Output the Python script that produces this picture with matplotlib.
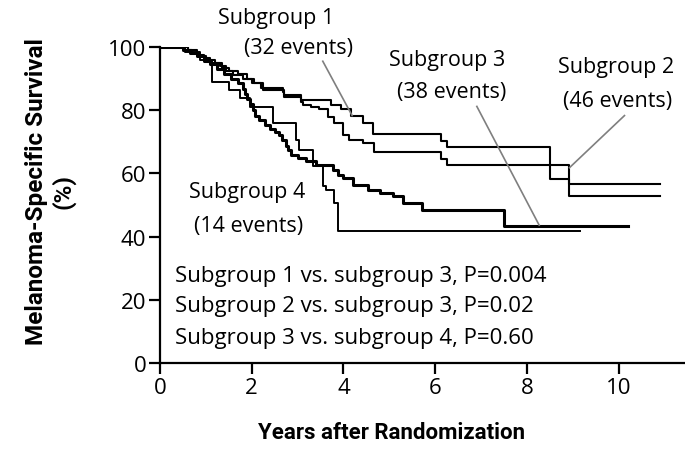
import matplotlib.pyplot as plt

plt.rcParams['font.family'] = ['Open Sans', 'DejaVu Sans']

# Kaplan-Meier curves (years, % surviving)
t_sub1 = [0, 0.55, 0.7, 0.85, 1.0, 1.2, 1.35, 1.5, 1.7, 1.9, 2.05, 2.2, 2.68, 2.7, 3.07, 3.73,
          3.95, 4.17, 4.42, 4.64, 6.12, 6.25, 8.51, 8.93, 10.9]
s_sub1 = [100, 99, 98, 97, 96, 95, 93.5, 92.5, 91.5, 90, 88.5, 87, 85.7, 84.7, 83.2, 81.5,
          80.3, 78.3, 76.1, 72.6, 70.4, 68.5, 58.3, 56.7, 56.7]

t_sub2 = [0, 0.6, 0.8, 0.95, 1.1, 1.3, 1.45, 1.6, 1.8, 2.0, 2.24, 2.7, 3.07, 3.11, 3.29, 3.46,
          3.66, 3.79, 3.99, 4.12, 4.43, 4.67, 6.12, 6.25, 8.93, 10.9]
s_sub2 = [100, 99, 97.5, 96.5, 95, 94, 92.5, 91, 90, 88.5, 86.3, 84.1, 82.5, 81.5, 80.9, 80.3,
          77.7, 76.1, 72.3, 70.7, 69.5, 66.9, 64.6, 62.7, 52.9, 52.9]

t_sub3 = [0, 0.5, 0.65, 0.8, 0.95, 1.1, 1.25, 1.4, 1.55, 1.7, 1.8, 1.85, 1.9, 1.97, 2.02, 2.08,
          2.15, 2.3, 2.4, 2.5, 2.59, 2.65, 2.74, 2.8, 2.85, 3.0, 3.18, 3.4, 3.77, 3.88, 4.0,
          4.21, 4.54, 4.8, 5.09, 5.31, 5.72, 7.5, 10.2]
s_sub3 = [100, 99, 98, 97, 95.5, 94.5, 93, 91.5, 90, 88.5, 86.6, 85, 83.5, 82, 80, 78.3,
          77, 75.2, 74, 73, 72.3, 70.5, 68.8, 67.5, 65.9, 65, 64, 62.7, 61.1, 59.6, 58.5,
          56.4, 54.8, 53.8, 52.9, 50.6, 48.5, 43.3, 43.3]

t_sub4 = [0, 0.55, 0.88, 1.14, 1.5, 1.75, 1.97, 2.46, 2.96, 3.03, 3.33, 3.55, 3.62, 3.8, 3.88, 9.15]
s_sub4 = [100, 98.5, 96, 89, 86.5, 84, 81, 76, 70.7, 67.5, 62.5, 56, 54.8, 50.6, 41.7, 41.7]

x_ticks = [0, 2, 4, 6, 8, 10]
y_ticks = [0, 20, 40, 60, 80, 100]
p_lines = ["Subgroup 1 vs. subgroup 3, P=0.004",
           "Subgroup 2 vs. subgroup 3, P=0.02",
           "Subgroup 3 vs. subgroup 4, P=0.60"]

fig = plt.figure(figsize=(6.85, 4.56), dpi=100)
ax = fig.add_axes([0.2336, 0.2018, 0.7664, 0.6929])

ax.step(t_sub1, s_sub1, where='post', c='k', lw=1.5)
ax.step(t_sub2, s_sub2, where='post', c='k', lw=1.5)
ax.step(t_sub3, s_sub3, where='post', c='k', lw=2.2)
ax.step(t_sub4, s_sub4, where='post', c='k', lw=1.4)

ax.set_xlim(0, 11.45)
ax.set_ylim(0, 100)
ax.set_xticks(x_ticks)
ax.set_yticks(y_ticks)
ax.spines[['top', 'right']].set_visible(False)
for s in ['left', 'bottom']:
    ax.spines[s].set_linewidth(1.6)
ax.tick_params(direction='out', length=8, width=1.6, labelsize=16, pad=2)

# axis titles placed to match the original layout
fig.text(391 / 685, 1 - 433 / 456, "Years after Randomization", fontsize=16,
         fontweight='bold', family=['Roboto', 'DejaVu Sans'], ha='center', va='center')
fig.text(50 / 685, 1 - 192 / 456, "Melanoma-Specific Survival\n(%)", fontsize=17.5,
         fontweight='bold', family=['Roboto', 'DejaVu Sans'], rotation=90,
         ha='center', va='center', multialignment='center', linespacing=1.15)

# curve labels and leader lines
lab = dict(fontsize=15.5, ha='center', va='center', clip_on=False)
ax.text(2.53, 109.5, "Subgroup 1", **lab)
ax.text(3.01, 99.8, "(32 events)", **lab)
ax.text(6.26, 96.2, "Subgroup 3", **lab)
ax.text(6.37, 85.8, "(38 events)", **lab)
ax.text(9.95, 93.7, "Subgroup 2", **lab)
ax.text(9.97, 83.2, "(46 events)", **lab)
ax.text(1.90, 54.4, "Subgroup 4", **lab)
ax.text(1.94, 43.4, "(14 events)", **lab)

grey = '#7f7f7f'
ax.plot([3.55, 4.19], [95.5, 78.3], c=grey, lw=1.2, clip_on=False)
ax.plot([6.91, 8.27], [81.2, 43.6], c=grey, lw=1.2, clip_on=False)
ax.plot([10.13, 8.93], [78.3, 61.8], c=grey, lw=1.2, clip_on=False)

for y, txt in zip([27.8, 18.2, 8.2], p_lines):
    ax.text(0.33, y, txt, fontsize=16, ha='left', va='center')

fig.savefig("out.png", dpi=100)
